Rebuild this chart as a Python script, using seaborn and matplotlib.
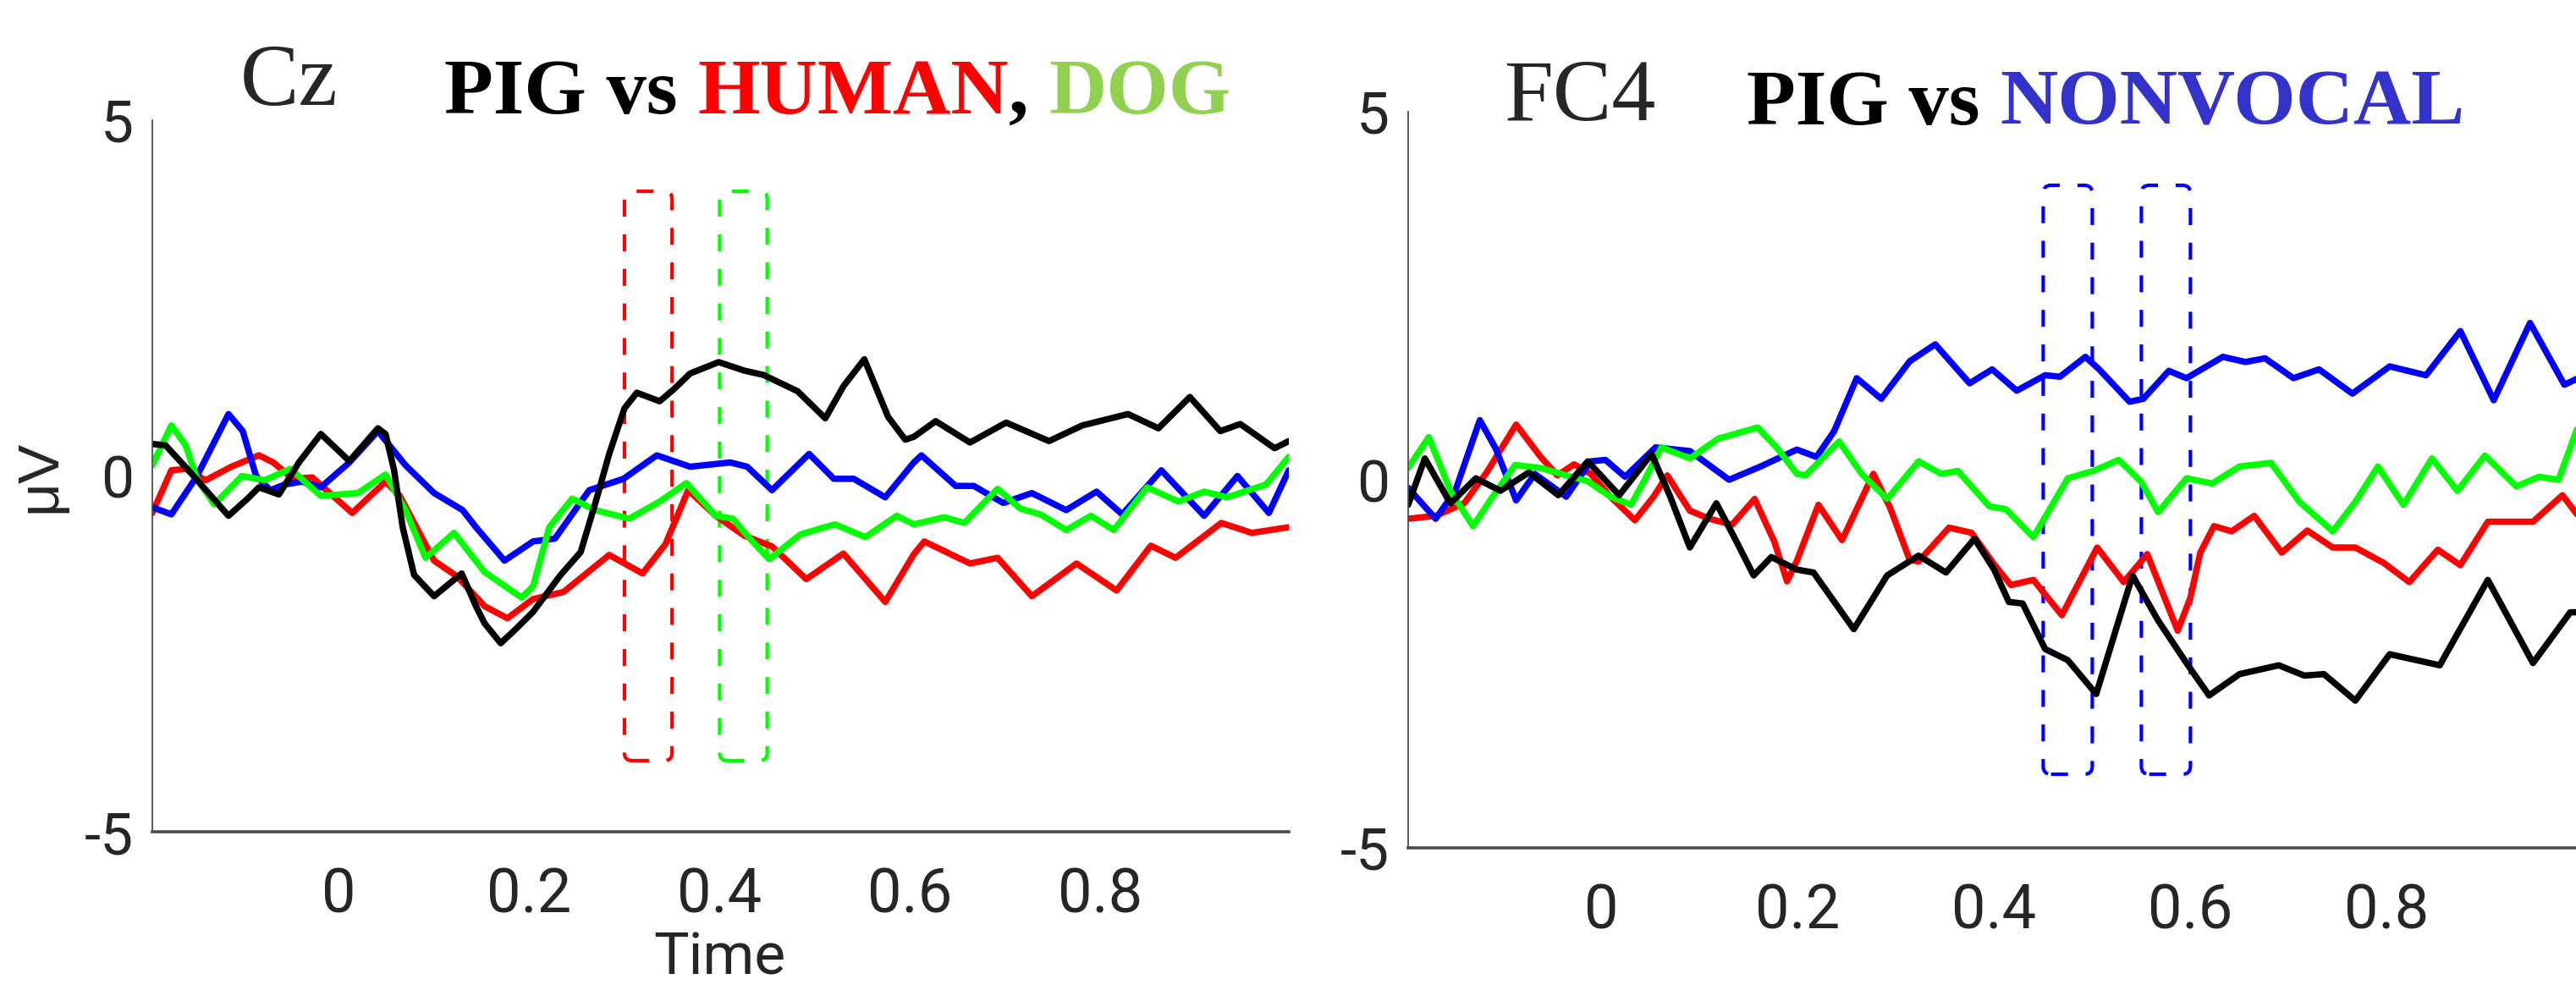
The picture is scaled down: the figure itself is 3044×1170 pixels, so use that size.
import pandas as pd
import matplotlib
matplotlib.use("Agg")
import matplotlib.pyplot as plt
from matplotlib.patches import FancyBboxPatch
import seaborn as sns

# ---- Cz panel (left) ----
cz_pig_t = [-0.196, -0.182, -0.158, -0.137, -0.116, -0.096, -0.084, -0.063, -0.042, -0.019, 0.011, 0.041,
            0.049, 0.058, 0.067, 0.079, 0.100, 0.129, 0.144, 0.153, 0.170, 0.186, 0.204, 0.233, 0.254, 0.269,
            0.284, 0.300, 0.313, 0.337, 0.352, 0.369, 0.399, 0.426, 0.446, 0.482, 0.511, 0.530, 0.552, 0.577,
            0.595, 0.604, 0.627, 0.663, 0.701, 0.746, 0.781, 0.829, 0.861, 0.894, 0.926, 0.947, 0.983, 0.998]
cz_pig_v = [0.45, 0.43, 0.08, -0.24, -0.56, -0.32, -0.16, -0.26, 0.19, 0.59, 0.21, 0.67,
            0.59, 0.08, -0.72, -1.39, -1.69, -1.37, -1.83, -2.07, -2.35, -2.15, -1.91, -1.39, -1.07, -0.40,
            0.31, 0.95, 1.17, 1.05, 1.22, 1.44, 1.60, 1.48, 1.42, 1.19, 0.81, 1.26, 1.64, 0.83,
            0.51, 0.55, 0.77, 0.47, 0.75, 0.49, 0.71, 0.87, 0.67, 1.11, 0.63, 0.73, 0.39, 0.49]

cz_human_t = [-0.196, -0.176, -0.161, -0.140, -0.113, -0.084, -0.069, -0.048, -0.028, -0.013, 0.014, 0.049,
              0.064, 0.100, 0.124, 0.153, 0.177, 0.204, 0.236, 0.284, 0.319, 0.343, 0.367, 0.396, 0.426,
              0.455, 0.491, 0.530, 0.574, 0.604, 0.615, 0.663, 0.692, 0.728, 0.775, 0.817, 0.853, 0.879,
              0.927, 0.959, 0.998]
cz_human_v = [-0.52, 0.08, 0.10, -0.06, 0.13, 0.29, 0.19, -0.04, -0.02, -0.20, -0.52, -0.08,
              -0.28, -1.19, -1.41, -1.83, -2.00, -1.73, -1.63, -1.11, -1.37, -0.96, -0.20, -0.56, -0.84,
              -0.99, -1.45, -1.09, -1.77, -1.10, -0.92, -1.23, -1.15, -1.69, -1.23, -1.61, -0.98, -1.15,
              -0.66, -0.80, -0.72]

cz_dog_t = [-0.196, -0.176, -0.161, -0.149, -0.131, -0.102, -0.078, -0.051, -0.019, 0.020, 0.049, 0.070,
            0.091, 0.121, 0.153, 0.192, 0.204, 0.221, 0.245, 0.269, 0.305, 0.337, 0.365, 0.396, 0.414,
            0.429, 0.452, 0.485, 0.521, 0.553, 0.586, 0.604, 0.636, 0.657, 0.692, 0.716, 0.737, 0.764,
            0.790, 0.814, 0.849, 0.882, 0.909, 0.933, 0.974, 0.998]
cz_dog_v = [0.15, 0.71, 0.43, -0.04, -0.40, 0.00, -0.06, 0.10, -0.28, -0.24, 0.02, -0.48,
            -1.15, -0.80, -1.35, -1.71, -1.55, -0.72, -0.32, -0.48, -0.60, -0.36, -0.10, -0.56, -0.60,
            -0.84, -1.17, -0.82, -0.68, -0.86, -0.56, -0.68, -0.58, -0.66, -0.18, -0.46, -0.54, -0.76,
            -0.56, -0.76, -0.16, -0.36, -0.22, -0.30, -0.12, 0.27]

cz_nonvocal_t = [-0.196, -0.176, -0.149, -0.116, -0.101, -0.087, -0.072, -0.057, -0.039, -0.019, 0.011,
                 0.041, 0.070, 0.100, 0.130, 0.144, 0.174, 0.204, 0.227, 0.263, 0.299, 0.334, 0.369, 0.411,
                 0.429, 0.455, 0.494, 0.520, 0.541, 0.574, 0.604, 0.612, 0.648, 0.667, 0.698, 0.728, 0.764,
                 0.796, 0.823, 0.864, 0.909, 0.944, 0.977, 0.998]
cz_nonvocal_v = [-0.44, -0.54, 0.00, 0.87, 0.63, 0.00, -0.20, -0.12, -0.08, -0.16, 0.19,
                 0.63, 0.15, -0.24, -0.48, -0.72, -1.19, -0.92, -0.88, -0.20, -0.04, 0.29, 0.13, 0.19,
                 0.13, -0.20, 0.31, -0.04, -0.04, -0.30, 0.19, 0.29, -0.14, -0.14, -0.38, -0.24, -0.48,
                 -0.22, -0.54, 0.08, -0.56, 0.00, -0.52, 0.08]

# ---- FC4 panel (right) ----
fc4_pig_t = [-0.197, -0.180, -0.154, -0.128, -0.103, -0.074, -0.044, -0.014, 0.018, 0.051, 0.070, 0.090,
             0.117, 0.136, 0.155, 0.173, 0.199, 0.216, 0.257, 0.291, 0.323, 0.351, 0.380, 0.400, 0.415,
             0.429, 0.452, 0.475, 0.504, 0.541, 0.567, 0.596, 0.619, 0.650, 0.690, 0.716, 0.736, 0.768,
             0.803, 0.854, 0.903, 0.949, 0.987, 0.995]
fc4_pig_v = [-0.34, 0.29, -0.32, 0.02, -0.15, 0.10, -0.21, 0.25, -0.21, 0.35, -0.23, -0.92,
             -0.32, -0.80, -1.30, -1.05, -1.22, -1.26, -2.03, -1.30, -1.03, -1.26, -0.80, -1.22, -1.66,
             -1.68, -2.30, -2.45, -2.91, -1.30, -1.91, -2.49, -2.93, -2.64, -2.52, -2.66, -2.64, -3.00,
             -2.37, -2.52, -1.36, -2.49, -1.80, -1.80]

fc4_human_t = [-0.197, -0.169, -0.140, -0.117, -0.087, -0.062, -0.045, -0.028, -0.011, 0.009, 0.034, 0.053,
               0.067, 0.090, 0.110, 0.133, 0.156, 0.176, 0.189, 0.199, 0.221, 0.245, 0.277, 0.294, 0.314,
               0.323, 0.354, 0.377, 0.400, 0.417, 0.440, 0.469, 0.505, 0.532, 0.556, 0.587, 0.600, 0.610,
               0.624, 0.642, 0.665, 0.693, 0.719, 0.745, 0.768, 0.797, 0.823, 0.852, 0.875, 0.903, 0.949,
               0.979, 0.995]
fc4_human_v = [-0.53, -0.49, -0.32, 0.10, 0.75, 0.31, 0.06, 0.21, 0.08, -0.23, -0.55, -0.23,
               0.06, -0.42, -0.53, -0.61, -0.26, -0.84, -1.38, -1.10, -0.34, -0.82, 0.08, -0.38, -1.09,
               -1.11, -0.65, -0.72, -1.15, -1.43, -1.36, -1.84, -0.92, -1.39, -1.01, -2.05, -1.60, -0.99,
               -0.63, -0.70, -0.49, -0.99, -0.69, -0.92, -0.92, -1.13, -1.39, -0.95, -1.16, -0.57, -0.57,
               -0.21, -0.49]

fc4_dog_t = [-0.197, -0.176, -0.154, -0.131, -0.111, -0.088, -0.062, -0.036, -0.014, 0.009, 0.030, 0.044,
             0.061, 0.090, 0.119, 0.159, 0.179, 0.199, 0.208, 0.242, 0.265, 0.291, 0.323, 0.346, 0.363,
             0.395, 0.412, 0.440, 0.475, 0.501, 0.527, 0.550, 0.567, 0.596, 0.622, 0.650, 0.682, 0.711,
             0.745, 0.768, 0.791, 0.817, 0.846, 0.872, 0.900, 0.932, 0.955, 0.975, 0.995]
fc4_dog_v = [0.16, 0.58, -0.15, -0.63, -0.23, 0.20, 0.16, 0.06, -0.02, -0.23, -0.34, 0.00,
             0.44, 0.29, 0.56, 0.71, 0.43, 0.08, 0.06, 0.52, 0.08, -0.26, 0.25, 0.08, 0.12,
             -0.36, -0.40, -0.78, 0.02, 0.12, 0.27, -0.03, -0.44, 0.02, -0.05, 0.18, 0.23, -0.30,
             -0.70, -0.30, 0.18, -0.34, 0.29, -0.15, 0.33, -0.09, 0.04, 0.00, 0.73]

fc4_nonvocal_t = [-0.197, -0.169, -0.149, -0.124, -0.108, -0.087, -0.068, -0.036, -0.011, 0.004, 0.024,
                  0.055, 0.090, 0.130, 0.162, 0.199, 0.219, 0.237, 0.260, 0.285, 0.314, 0.340, 0.375, 0.398,
                  0.423, 0.452, 0.467, 0.493, 0.507, 0.538, 0.552, 0.578, 0.596, 0.633, 0.656, 0.676, 0.705,
                  0.731, 0.765, 0.803, 0.840, 0.875, 0.909, 0.946, 0.981, 0.995]
fc4_nonvocal_v = [-0.11, -0.53, -0.15, 0.81, 0.43, -0.28, 0.08, -0.23, 0.25, 0.27, 0.04,
                  0.44, 0.39, 0.00, 0.18, 0.41, 0.31, 0.66, 1.38, 1.10, 1.61, 1.84, 1.31, 1.50,
                  1.21, 1.42, 1.40, 1.67, 1.50, 1.06, 1.10, 1.48, 1.38, 1.67, 1.60, 1.65, 1.38,
                  1.50, 1.17, 1.54, 1.42, 2.02, 1.08, 2.13, 1.29, 1.38]

# significant time windows (start, end) and their level
cz_windows = [(0.30, 0.35), (0.40, 0.45)]
cz_window_cond = ["HUMAN", "DOG"]
fc4_windows = [(0.45, 0.50), (0.55, 0.60)]
window_low, window_high = -4, 4

x_ticks = [0, 0.2, 0.4, 0.6, 0.8]
x_tick_labels = ["0", "0.2", "0.4", "0.6", "0.8"]
y_ticks = [-5, 0, 5]
y_tick_labels = ["-5", "0", "5"]

sns.set_style("white")
plt.rcParams["font.family"] = ["Liberation Sans Narrow", "DejaVu Sans Condensed", "Roboto", "DejaVu Sans"]
plt.rcParams["axes.unicode_minus"] = False
plt.rcParams["lines.linewidth"] = 5.4
plt.rcParams["lines.solid_joinstyle"] = "round"
plt.rcParams["lines.solid_capstyle"] = "round"

palette = {"HUMAN": "#ff0000", "NONVOCAL": "#0000ff", "DOG": "#00ff00", "PIG": "#000000"}
order = ["HUMAN", "NONVOCAL", "DOG", "PIG"]


def to_long(curves):
    frames = [pd.DataFrame({"Time": t, "uV": v, "cond": name}) for name, (t, v) in curves.items()]
    return pd.concat(frames, ignore_index=True)


cz_df = to_long({"HUMAN": (cz_human_t, cz_human_v), "NONVOCAL": (cz_nonvocal_t, cz_nonvocal_v),
                 "DOG": (cz_dog_t, cz_dog_v), "PIG": (cz_pig_t, cz_pig_v)})
fc4_df = to_long({"HUMAN": (fc4_human_t, fc4_human_v), "NONVOCAL": (fc4_nonvocal_t, fc4_nonvocal_v),
                  "DOG": (fc4_dog_t, fc4_dog_v), "PIG": (fc4_pig_t, fc4_pig_v)})

W, H = 3044, 1170
fig = plt.figure(figsize=(W / 100, H / 100), dpi=100)
ax1 = fig.add_axes([180 / W, 1 - 983 / H, 1343 / W, 841 / H])
ax2 = fig.add_axes([1664 / W, 1 - 1002 / H, 1386 / W, 870 / H])


def draw_panel(ax, df, xlim):
    sns.lineplot(data=df, x="Time", y="uV", hue="cond", hue_order=order, palette=palette,
                 estimator=None, sort=False, legend=False, linewidth=5.4, ax=ax)
    ax.set_xlim(*xlim)
    ax.set_ylim(-5, 5)
    ax.set_xticks(x_ticks)
    ax.set_xticklabels(x_tick_labels)
    ax.set_yticks(y_ticks)
    ax.set_yticklabels(y_tick_labels)
    for s in ["top", "right"]:
        ax.spines[s].set_visible(False)
    ax.spines["left"].set_color("#4d4d4d")
    ax.spines["left"].set_linewidth(1.3)
    ax.spines["bottom"].set_color("#4d4d4d")
    ax.spines["bottom"].set_linewidth(2.6)
    ax.tick_params(axis="x", direction="in", length=12, width=1.3, pad=30,
                   labelsize=52, colors="#262626")
    ax.tick_params(axis="y", direction="in", length=9, width=1.3, pad=16,
                   labelsize=50, colors="#262626")
    ax.set_xlabel("")
    ax.set_ylabel("")


def add_window(ax, t0, t1, color):
    box = FancyBboxPatch((t0, window_low), t1 - t0, window_high - window_low,
                         boxstyle="round,pad=0,rounding_size=0.008", mutation_aspect=13.4,
                         fill=False, edgecolor=color, linewidth=3.0, linestyle=(0, (4.8, 5.0)),
                         zorder=1)
    ax.add_patch(box)


draw_panel(ax1, cz_df, (-0.196, 0.998))
draw_panel(ax2, fc4_df, (-0.197, 0.998))

for (t0, t1), cond in zip(cz_windows, cz_window_cond):
    add_window(ax1, t0, t1, palette[cond])
for t0, t1 in fc4_windows:
    add_window(ax2, t0, t1, palette["NONVOCAL"])

ax1.set_ylabel("μV", fontsize=50, family=["Liberation Sans", "DejaVu Sans"], color="#262626")
ax1.yaxis.set_label_coords(-0.075, 0.5)
ax1.set_xlabel("Time", fontsize=50, color="#262626")
ax1.xaxis.set_label_coords(0.499, -0.138)

# panel titles
fig.text(284 / W, 1 - 124 / H, "Cz", fontsize=75, family="Liberation Serif", va="baseline")
fig.text(1777 / W, 1 - 142 / H, "FC4", fontsize=75, family="Liberation Serif", va="baseline")

renderer = fig.canvas.get_renderer()


def color_title(x_px, base_px, parts, size=68):
    font = dict(fontsize=size, family="Liberation Serif", weight="bold")
    a = fig.text(0, 0, "H H", **font)
    b = fig.text(0, 0, "HH", **font)
    sp = a.get_window_extent(renderer).width - b.get_window_extent(renderer).width
    a.remove()
    b.remove()
    x = x_px
    for txt, col in parts:
        if txt == " ":
            x += sp
            continue
        t = fig.text(x / W, 1 - base_px / H, txt, color=col, va="baseline", **font)
        x = t.get_window_extent(renderer).x1


color_title(525, 134, [("PIG vs", "black"), (" ", None), ("HUMAN", "#ff0000"), (",", "black"),
                       (" ", None), ("DOG", "#92d050")])
color_title(2064, 147, [("PIG vs", "black"), (" ", None), ("NONVOCAL", "#3333cc")])

fig.savefig("out.png", dpi=100)
